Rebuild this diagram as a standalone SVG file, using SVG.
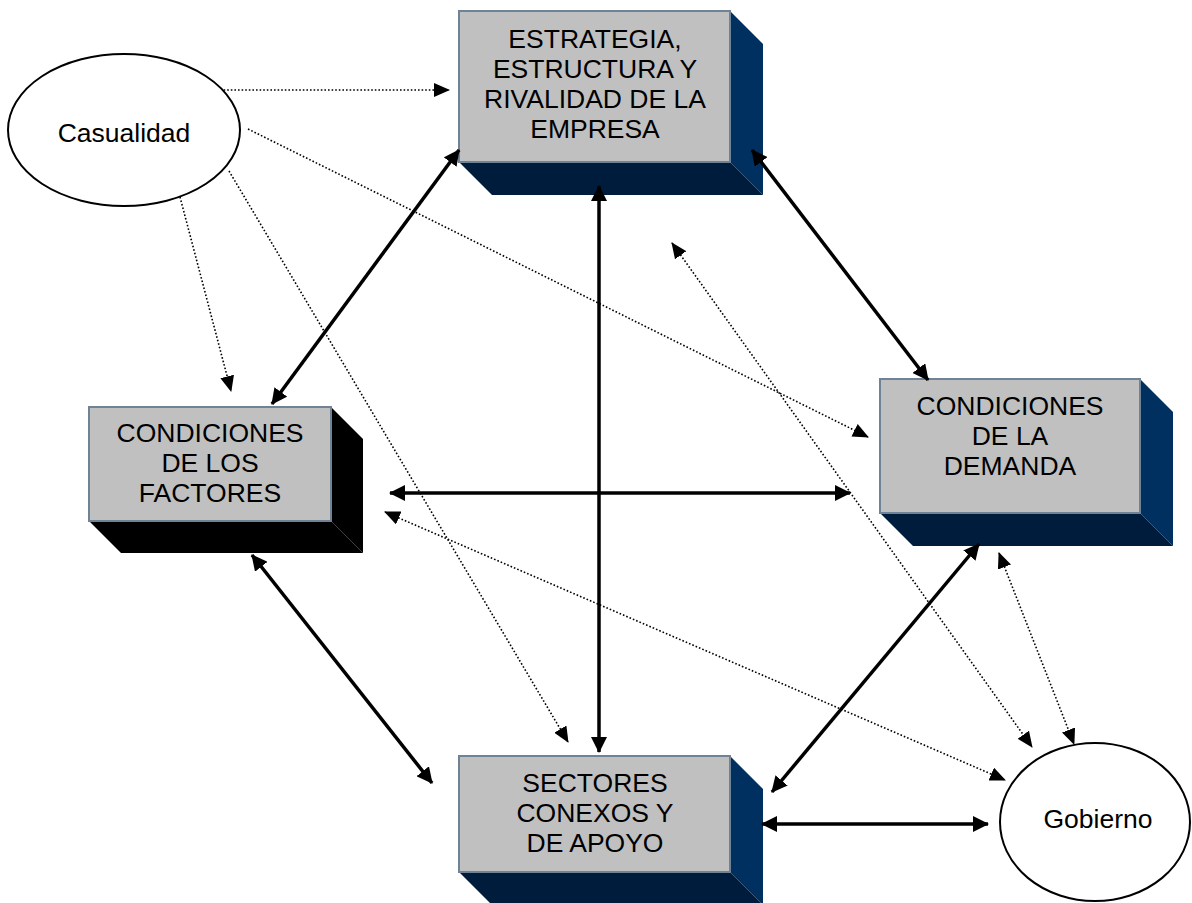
<svg xmlns="http://www.w3.org/2000/svg" width="1192" height="903" viewBox="0 0 1192 903">
<defs>
<style>
.front{fill:#c0c0c0;stroke:#6f8296;stroke-width:2}
.side{fill:#00305f}
.under{fill:#001c3d}
.sideK{fill:#000}
.lbl{font-family:"Liberation Sans",Arial,sans-serif;font-size:26.5px;fill:#000;text-anchor:middle}
.ell{fill:#fff;stroke:#000;stroke-width:2}
.solid{fill:none;stroke:#000;stroke-width:3.5;marker-start:url(#ah);marker-end:url(#ah)}
.dot{fill:none;stroke:#000;stroke-width:1.6;stroke-dasharray:1.6 2}
.d1{marker-end:url(#ad)}
.d2{marker-start:url(#ad);marker-end:url(#ad)}
</style>
<marker id="ah" markerUnits="userSpaceOnUse" markerWidth="16" markerHeight="16" refX="15" refY="8" orient="auto-start-reverse" viewBox="0 0 16 16">
<path d="M0,0 L16,8 L0,16 z" fill="#000"/>
</marker>
<marker id="ad" markerUnits="userSpaceOnUse" markerWidth="16" markerHeight="14" refX="15" refY="7" orient="auto-start-reverse" viewBox="0 0 16 14">
<path d="M0,0 L16,7 L0,14 z" fill="#000"/>
</marker>
</defs>
<rect x="0" y="0" width="1192" height="903" fill="#fff"/>

<g id="connectors">
<line class="dot d1" x1="220" y1="90" x2="449" y2="90"/>
<line class="dot d1" x1="248" y1="129" x2="868" y2="437"/>
<line class="dot d1" x1="180" y1="197" x2="231" y2="391"/>
<line class="dot d1" x1="229" y1="171" x2="568" y2="742"/>
<line class="dot d2" x1="672" y1="243" x2="1032" y2="747"/>
<line class="dot d2" x1="385" y1="512" x2="1005" y2="780"/>
<line class="dot d2" x1="999" y1="553" x2="1074" y2="744"/>
</g>

<g id="n-estrategia">
<polygon class="side" points="730,11 763,44 763,195 730,162"/>
<polygon class="under" points="459,162 730,162 763,195 492,195"/>
<rect class="front" x="459" y="11" width="271" height="151"/>
<text class="lbl" x="595" y="48">ESTRATEGIA,</text>
<text class="lbl" x="595" y="78">ESTRUCTURA Y</text>
<text class="lbl" x="595" y="108">RIVALIDAD DE LA</text>
<text class="lbl" x="595" y="138">EMPRESA</text>
</g>

<g id="n-factores">
<polygon class="sideK" points="331,407 363,439 363,553 331,521"/>
<polygon class="sideK" points="89,521 331,521 363,553 121,553"/>
<rect class="front" x="89" y="407" width="242" height="114"/>
<text class="lbl" x="210" y="442">CONDICIONES</text>
<text class="lbl" x="210" y="472">DE LOS</text>
<text class="lbl" x="210" y="502">FACTORES</text>
</g>

<g id="n-demanda">
<polygon class="side" points="1140,379 1173,412 1173,546 1140,513"/>
<polygon class="under" points="880,513 1140,513 1173,546 913,546"/>
<rect class="front" x="880" y="379" width="260" height="134"/>
<text class="lbl" x="1010" y="415">CONDICIONES</text>
<text class="lbl" x="1010" y="445">DE LA</text>
<text class="lbl" x="1010" y="475">DEMANDA</text>
</g>

<g id="n-sectores">
<polygon class="side" points="730,756 763,789 763,905 730,872"/>
<polygon class="under" points="459,872 730,872 763,905 492,905"/>
<rect class="front" x="459" y="756" width="271" height="116"/>
<text class="lbl" x="595" y="792">SECTORES</text>
<text class="lbl" x="595" y="822">CONEXOS Y</text>
<text class="lbl" x="595" y="852">DE APOYO</text>
</g>

<g id="n-casualidad">
<ellipse class="ell" cx="124" cy="130" rx="116" ry="76"/>
<text class="lbl" x="124" y="142">Casualidad</text>
</g>

<g id="n-gobierno">
<ellipse class="ell" cx="1095" cy="822" rx="95" ry="79"/>
<text class="lbl" x="1098" y="828">Gobierno</text>
</g>

<g id="connectors-solid">
<line class="solid" x1="459" y1="150" x2="272" y2="404"/>
<line class="solid" x1="752" y1="150" x2="928" y2="380"/>
<line class="solid" x1="599" y1="186" x2="599" y2="752"/>
<line class="solid" x1="390" y1="493" x2="850" y2="493"/>
<line class="solid" x1="252" y1="555" x2="432" y2="783"/>
<line class="solid" x1="979" y1="544" x2="772" y2="792"/>
<line class="solid" x1="762" y1="824" x2="988" y2="824"/>
</g>
</svg>
